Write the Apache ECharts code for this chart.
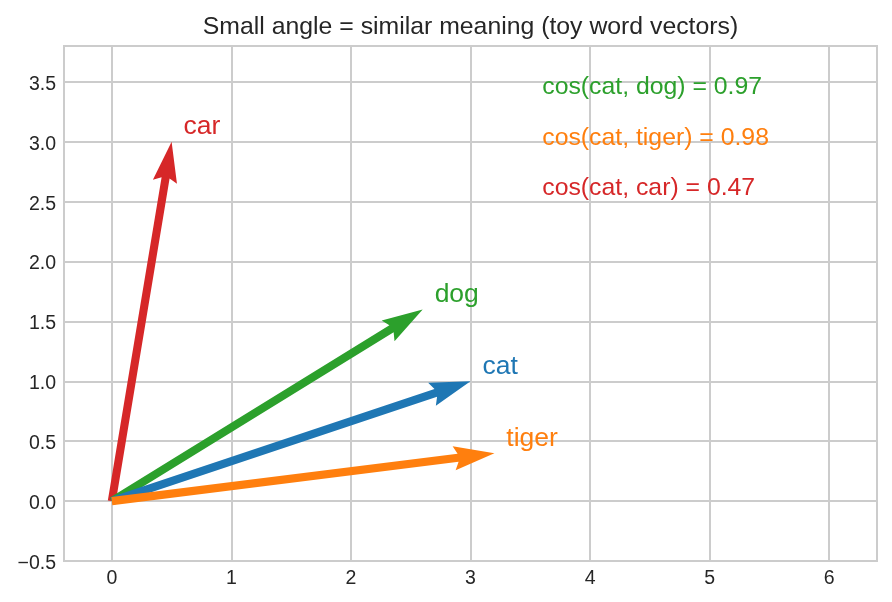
<!DOCTYPE html>
<html>
<head>
<meta charset="utf-8">
<script src="https://cdn.jsdelivr.net/npm/echarts@6/dist/echarts.min.js"></script>
<style>
  html, body { margin: 0; padding: 0; background: #fff; }
  #chart { width: 892px; height: 602px; }
</style>
</head>
<body>
<div id="chart"></div>
<script>
// word vectors (draw order: car, dog, cat, tiger)
var words = ['car', 'dog', 'cat', 'tiger'];
var vecX = [0.5, 2.6, 3.0, 3.2];
var vecY = [3.0, 1.6, 1.0, 0.4];
var wordColors = ['#d62728', '#2ca02c', '#1f77b4', '#ff7f0e'];

// cosine similarity notes
var cosText = ['cos(cat, dog) = 0.97', 'cos(cat, tiger) = 0.98', 'cos(cat, car) = 0.47'];
var cosColors = ['#2ca02c', '#ff7f0e', '#d62728'];
var cosX = [3.6, 3.6, 3.6];
var cosY = [3.41, 2.98, 2.56];

// ticks
var xTicks = [0, 1, 2, 3, 4, 5, 6];
var yTicks = [-0.5, 0, 0.5, 1, 1.5, 2, 2.5, 3, 3.5];

var FONT = '"Liberation Sans", Arial, sans-serif';
var TXT = '#262626';
var GRIDC = '#cccccc';

var arrowData = [];
for (var i = 0; i < words.length; i++) {
    arrowData.push([vecX[i], vecY[i], i]);
}
var cosData = [];
for (var j = 0; j < cosText.length; j++) {
    cosData.push([cosX[j], cosY[j], j]);
}

// quiver-like arrow, sizes in px
var SHAFT = 8.1, HEADLEN = 40.6, HEADAXIS = 36.6, HEADW = 24.4;

function renderArrow(params, api) {
    var p0 = api.coord([0, 0]);
    var p1 = api.coord([api.value(0), api.value(1)]);
    var dx = p1[0] - p0[0], dy = p1[1] - p0[1];
    var L = Math.sqrt(dx * dx + dy * dy);
    var ux = dx / L, uy = dy / L;
    var nx = -uy, ny = ux;
    function pt(a, b) {
        return [p0[0] + ux * a + nx * b, p0[1] + uy * a + ny * b];
    }
    var pts = [
        pt(0, -SHAFT / 2),
        pt(L - HEADAXIS, -SHAFT / 2),
        pt(L - HEADLEN, -HEADW / 2),
        pt(L, 0),
        pt(L - HEADLEN, HEADW / 2),
        pt(L - HEADAXIS, SHAFT / 2),
        pt(0, SHAFT / 2)
    ];
    var idx = api.value(2);
    var lp = api.coord([api.value(0) + 0.1, api.value(1) + 0.1]);
    return {
        type: 'group',
        children: [
            {
                type: 'polygon',
                shape: { points: pts },
                style: { fill: wordColors[idx], stroke: null }
            },
            {
                type: 'text',
                x: lp[0],
                y: lp[1] - 3,
                style: {
                    text: words[idx],
                    fill: wordColors[idx],
                    font: '26.5px ' + FONT,
                    align: 'left',
                    verticalAlign: 'middle'
                }
            }
        ]
    };
}

function renderCos(params, api) {
    var idx = api.value(2);
    var p = api.coord([api.value(0), api.value(1)]);
    return {
        type: 'text',
        x: p[0],
        y: p[1] - 6,
        style: {
            text: cosText[idx],
            fill: cosColors[idx],
            font: '24.8px ' + FONT,
            align: 'left',
            verticalAlign: 'middle'
        }
    };
}

var chart = echarts.init(document.getElementById('chart'), null, { renderer: 'canvas' });

chart.setOption({
    backgroundColor: '#ffffff',
    animation: false,
    graphic: [{
        type: 'text',
        x: 470.5,
        y: 27,
        style: {
            text: 'Small angle = similar meaning (toy word vectors)',
            fill: TXT,
            font: '24.8px ' + FONT,
            align: 'center',
            verticalAlign: 'middle'
        }
    }],
    grid: {
        left: 64, right: 15, top: 46, bottom: 41,
        show: true,
        borderColor: GRIDC,
        borderWidth: 2,
        backgroundColor: '#ffffff'
    },
    xAxis: {
        type: 'value',
        min: -0.4,
        max: 6.4,
        axisLine: { show: false },
        axisTick: { show: false, customValues: xTicks },
        axisLabel: {
            customValues: xTicks,
            color: TXT,
            fontSize: 19.5,
            fontFamily: FONT,
            margin: 8,
            formatter: function (v) { return String(v); }
        },
        splitLine: { show: true, lineStyle: { color: GRIDC, width: 2 } }
    },
    yAxis: {
        type: 'value',
        min: -0.5,
        max: 3.8,
        axisLine: { show: false },
        axisTick: { show: false, customValues: yTicks },
        axisLabel: {
            customValues: yTicks,
            margin: 8,
            formatter: function (v) { return '{t|' + v.toFixed(1).replace('-', '\u2212') + '}'; },
            rich: {
                t: {
                    color: TXT,
                    fontSize: 19.5,
                    fontFamily: FONT,
                    padding: [5, 0, 0, 0]
                }
            }
        },
        splitLine: { show: true, lineStyle: { color: GRIDC, width: 2 } }
    },
    series: [
        {
            type: 'custom',
            renderItem: renderArrow,
            data: arrowData,
            clip: false,
            z: 3
        },
        {
            type: 'custom',
            renderItem: renderCos,
            data: cosData,
            clip: false,
            z: 4
        }
    ]
});
</script>
</body>
</html>
